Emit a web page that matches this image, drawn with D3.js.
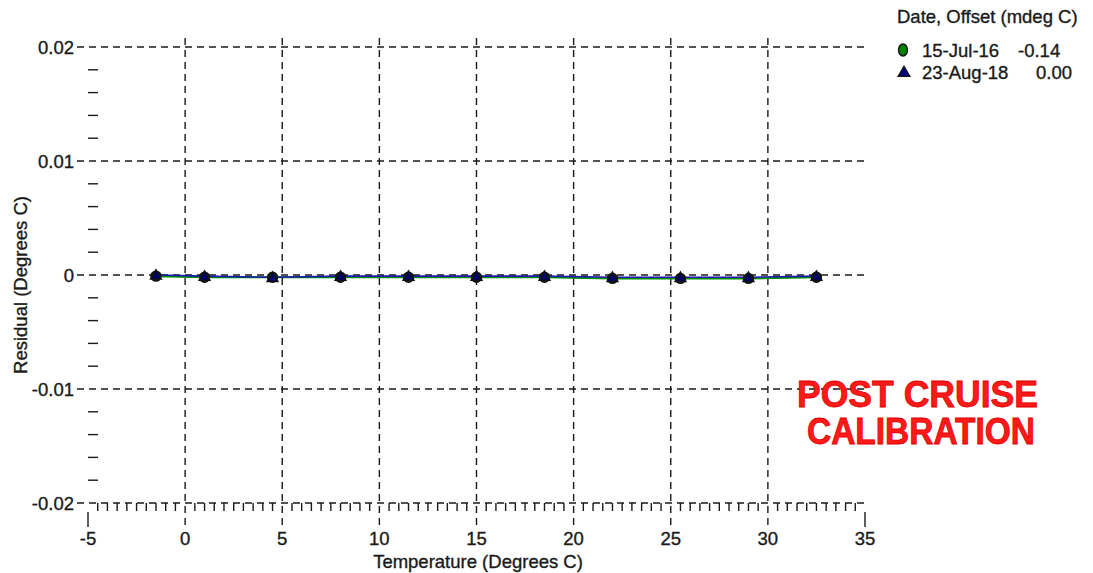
<!DOCTYPE html>
<html>
<head>
<meta charset="utf-8">
<script src="https://cdn.jsdelivr.net/npm/d3@7"></script>
<style>
  html, body { margin: 0; padding: 0; background: #fff; }
  svg { display: block; font-family: "Liberation Sans", Arial, sans-serif; }
  .lbl { font-size: 18.5px; fill: #1a1a1a; stroke: #1a1a1a; stroke-width: 0.35px; }
</style>
</head>
<body>
<svg id="chart" width="1093" height="573"></svg>
<script>
// Calibration bath temperatures (Degrees C)
const temperatures = [-1.5, 1, 4.5, 8, 11.5, 15, 18.5, 22, 25.5, 29, 32.5];
// Residuals (Degrees C) for each calibration
const residuals2016 = [-0.0001, -0.0002, -0.0002, -0.0002, -0.0002, -0.0002, -0.0002, -0.0003, -0.0003, -0.0003, -0.0002];
const residuals2018 = [0.0000, -0.0001, -0.0002, -0.0001, -0.0001, -0.0001, -0.0001, -0.0002, -0.0002, -0.0002, -0.0001];
const seriesDates = ["15-Jul-16", "23-Aug-18"];
const seriesOffsets = ["-0.14", "0.00"];
const xTicks = [-5, 0, 5, 10, 15, 20, 25, 30, 35];
const yTicks = [0.02, 0.01, 0, -0.01, -0.02];
const yTickLabels = ["0.02", "0.01", "0", "-0.01", "-0.02"];

const svg = d3.select("#chart");
const x = d3.scaleLinear().domain([-5, 35]).range([88, 865]);
const y = d3.scaleLinear().domain([-0.02, 0.02]).range([503, 47]);
const ink = "#1a1a1a";
const dash = "7,5";

// horizontal grid lines
svg.append("g").selectAll("line").data(yTicks).join("line")
  .attr("x1", 77).attr("x2", x(35))
  .attr("y1", d => y(d)).attr("y2", d => y(d))
  .attr("stroke", ink).attr("stroke-width", 1.4).attr("stroke-dasharray", dash);

// vertical grid lines
svg.append("g").selectAll("line").data(xTicks.filter(d => d > -5 && d < 35)).join("line")
  .attr("x1", d => x(d)).attr("x2", d => x(d))
  .attr("y1", 38).attr("y2", 527)
  .attr("stroke", ink).attr("stroke-width", 1.4).attr("stroke-dasharray", dash);

// end ticks on the x axis
svg.append("g").selectAll("line").data([-5, 35]).join("line")
  .attr("x1", d => x(d)).attr("x2", d => x(d))
  .attr("y1", 512).attr("y2", 527)
  .attr("stroke", ink).attr("stroke-width", 1.4);

// minor ticks on the x axis (every 0.5)
const xMinor = d3.range(-5, 35.01, 0.5).filter(d => Math.abs(d % 5) > 1e-6);
svg.append("g").selectAll("line").data(xMinor).join("line")
  .attr("x1", d => x(d)).attr("x2", d => x(d))
  .attr("y1", 503).attr("y2", 511)
  .attr("stroke", ink).attr("stroke-width", 1.4);

// minor ticks on the y axis (every 0.002)
const yMinor = d3.range(-0.02, 0.0201, 0.002).filter(d => Math.abs(Math.round(d * 1000)) % 10 !== 0);
svg.append("g").selectAll("line").data(yMinor).join("line")
  .attr("x1", 88).attr("x2", 98)
  .attr("y1", d => y(d)).attr("y2", d => y(d))
  .attr("stroke", ink).attr("stroke-width", 1.4);

// tick labels
svg.append("g").selectAll("text").data(yTicks).join("text")
  .attr("class", "lbl")
  .attr("x", 74).attr("y", d => y(d) + 7)
  .attr("text-anchor", "end")
  .text((d, i) => yTickLabels[i]);
svg.append("g").selectAll("text").data(xTicks).join("text")
  .attr("class", "lbl")
  .attr("x", d => x(d)).attr("y", 545)
  .attr("text-anchor", "middle")
  .text(d => d);

// axis titles
svg.append("text").attr("class", "lbl").attr("x", 478).attr("y", 568)
  .attr("text-anchor", "middle")
  .text("Temperature (Degrees C)");
svg.append("text").attr("class", "lbl").attr("transform", "translate(27,285) rotate(-90)")
  .attr("text-anchor", "middle")
  .text("Residual (Degrees C)");

// series
const line = d3.line().x(d => x(d[0])).y(d => y(d[1]));
const s2016 = temperatures.map((t, i) => [t, residuals2016[i]]);
const s2018 = temperatures.map((t, i) => [t, residuals2018[i]]);

svg.append("path").datum(s2016).attr("d", line)
  .attr("fill", "none").attr("stroke", "#009000").attr("stroke-width", 2);
svg.append("path").datum(s2018).attr("d", line)
  .attr("fill", "none").attr("stroke", "#1a1ab0").attr("stroke-width", 1.6);

const circleSym = d3.symbol().type(d3.symbolCircle).size(75);
const triSym = d3.symbol().type(d3.symbolTriangle).size(50);

svg.append("g").selectAll("path").data(s2016).join("path")
  .attr("d", circleSym)
  .attr("transform", d => `translate(${x(d[0])},${y(d[1])})`)
  .attr("fill", "#004000").attr("stroke", "#111").attr("stroke-width", 1.6);
svg.append("g").selectAll("path").data(s2018).join("path")
  .attr("d", triSym)
  .attr("transform", d => `translate(${x(d[0])},${y(d[1]) + 1})`)
  .attr("fill", "#000070").attr("stroke", "#111").attr("stroke-width", 1.5);

// legend
const legend = svg.append("g");
legend.append("text").attr("class", "lbl").attr("x", 897).attr("y", 23)
  .text("Date, Offset (mdeg C)");
const legendOffsetX = [1018, 1036];
seriesDates.forEach((d, i) => {
  const ly = 50 + i * 22;
  if (i === 0) {
    legend.append("ellipse").attr("cx", 903).attr("cy", ly)
      .attr("rx", 4.5).attr("ry", 6)
      .attr("fill", "#008000").attr("stroke", "#111").attr("stroke-width", 1.3);
  } else {
    legend.append("path").attr("d", d3.symbol().type(d3.symbolTriangle).size(60))
      .attr("transform", `translate(904,${ly + 1})`)
      .attr("fill", "#000080").attr("stroke", "#111").attr("stroke-width", 1.3);
  }
  legend.append("text").attr("class", "lbl").attr("x", 922).attr("y", ly + 7).text(d);
  legend.append("text").attr("class", "lbl").attr("x", legendOffsetX[i]).attr("y", ly + 7)
    .text(seriesOffsets[i]);
});

// annotation
const note = svg.append("g").attr("font-size", 36).attr("font-weight", "bold")
  .attr("fill", "#ff1a1a").attr("stroke", "#e00000").attr("stroke-width", 0.8);
note.append("text").attr("x", 797).attr("y", 407)
  .attr("textLength", 241).attr("lengthAdjust", "spacingAndGlyphs").text("POST CRUISE");
note.append("text").attr("x", 807).attr("y", 444)
  .attr("textLength", 228).attr("lengthAdjust", "spacingAndGlyphs").text("CALIBRATION");
</script>
</body>
</html>
